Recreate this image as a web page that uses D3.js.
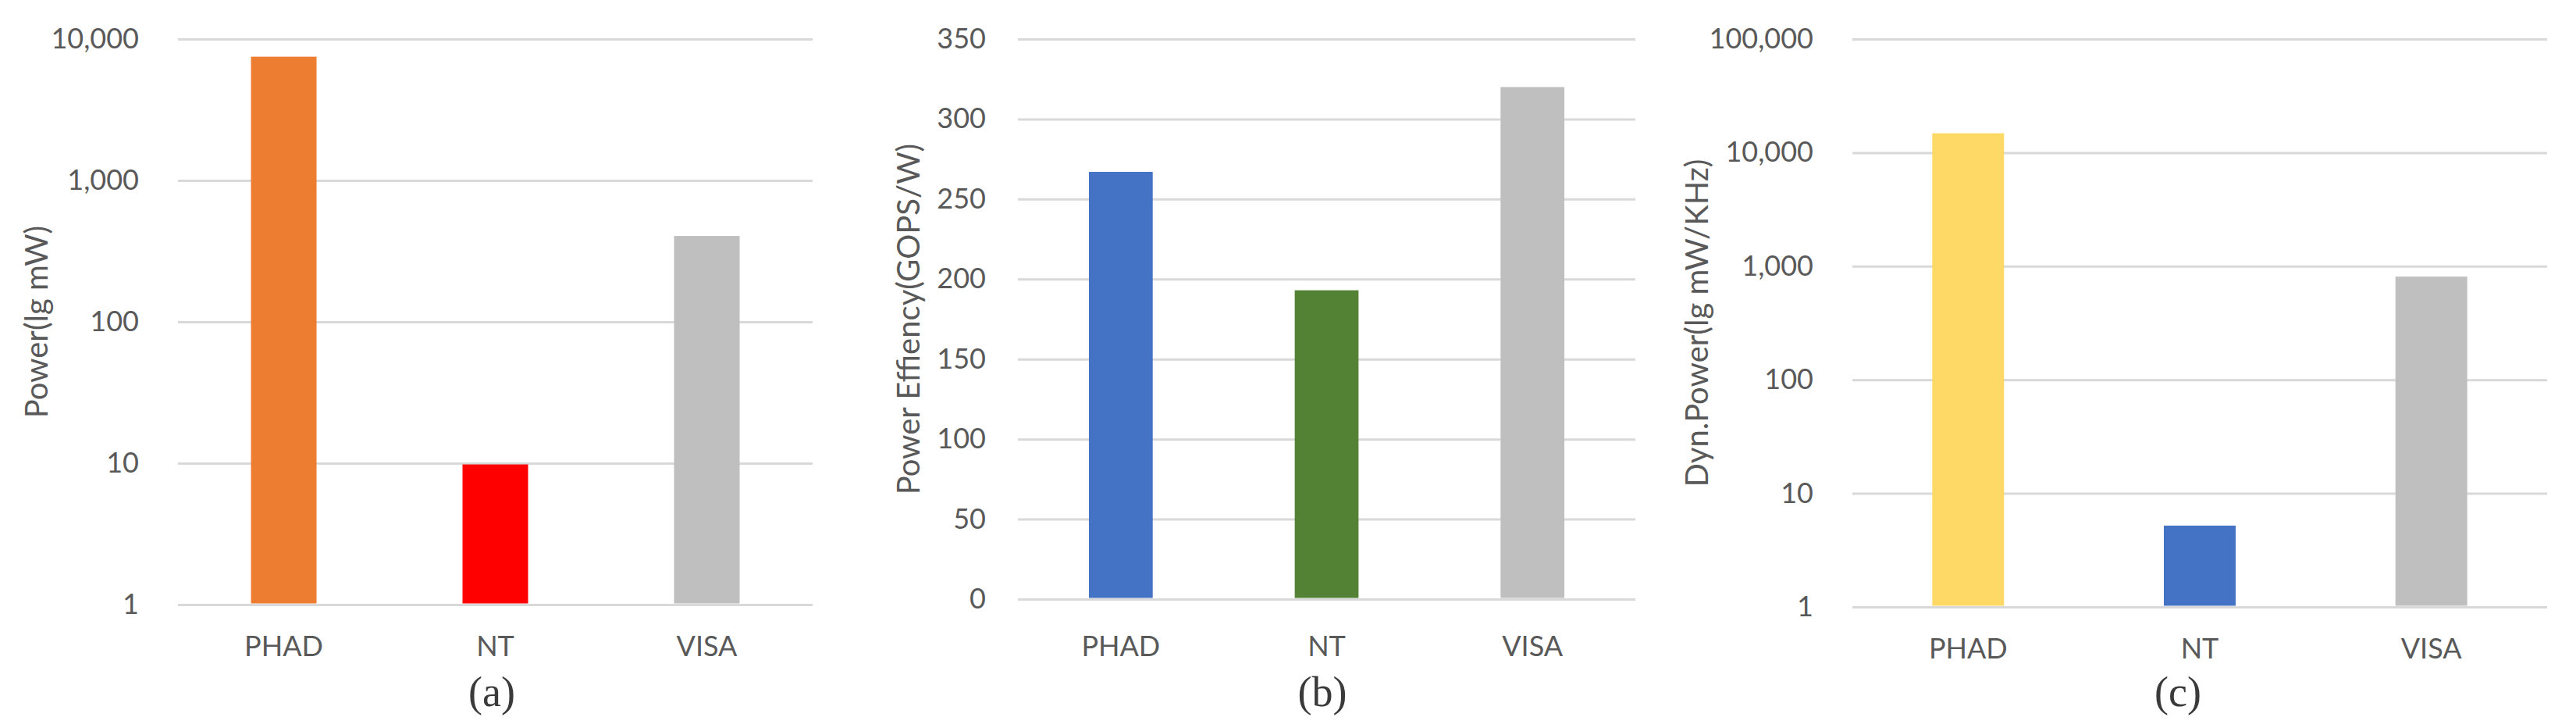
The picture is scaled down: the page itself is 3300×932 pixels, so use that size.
<!DOCTYPE html>
<html>
<head>
<meta charset="utf-8">
<script src="https://cdn.jsdelivr.net/npm/d3@7"></script>
<style>
  html, body { margin: 0; padding: 0; background: #fff; }
  svg { display: block; }
</style>
</head>
<body>
<svg id="chart" width="3300" height="932"></svg>
<script>
// ---- data ----
const categories = ["PHAD", "NT", "VISA"];

const powerValues = [7500, 9.8, 405];          // (a) Power (lg mW)
const powerColors = ["#ED7D31", "#FF0000", "#BFBFBF"];
const powerTicks = [1, 10, 100, 1000, 10000];

const effValues = [267, 193, 320];             // (b) Power Effiency (GOPS/W)
const effColors = ["#4472C4", "#548235", "#BFBFBF"];
const effTicks = [0, 50, 100, 150, 200, 250, 300, 350];

const dynValues = [14800, 5.2, 810];           // (c) Dyn.Power (lg mW/KHz)
const dynColors = ["#FFD966", "#4472C4", "#BFBFBF"];
const dynTicks = [1, 10, 100, 1000, 10000, 100000];

const panelTitles = ["Power(lg mW)", "Power Effiency(GOPS/W)", "Dyn.Power(lg mW/KHz)"];
const captions = ["(a)", "(b)", "(c)"];

// ---- layout ----
const svg = d3.select("#chart");
const fmt = d3.format(",");
const panels = [
  { values: powerValues, colors: powerColors, ticks: powerTicks, log: true,
    x0: 228, x1: 1041, y0: 50, y1: 774, titleX: 46, catY: 840, capX: 630 },
  { values: effValues, colors: effColors, ticks: effTicks, log: false,
    x0: 1304, x1: 2095, y0: 50, y1: 767, titleX: 1163, catY: 840, capX: 1694 },
  { values: dynValues, colors: dynColors, ticks: dynTicks, log: true,
    x0: 2373, x1: 3263, y0: 50, y1: 777, titleX: 2173, catY: 843, capX: 2790 }
];

panels.forEach((p, i) => {
  const g = svg.append("g");
  const x = d3.scaleBand().domain(categories).range([p.x0, p.x1])
    .paddingInner(0.69).paddingOuter(0.345);
  const y = p.log
    ? d3.scaleLog().domain([p.ticks[0], p.ticks[p.ticks.length - 1]]).range([p.y1, p.y0])
    : d3.scaleLinear().domain([p.ticks[0], p.ticks[p.ticks.length - 1]]).range([p.y1, p.y0]);

  // gridlines + tick labels via axis
  const axis = d3.axisLeft(y).tickValues(p.ticks).tickFormat(fmt)
    .tickSize(-(p.x1 - p.x0)).tickPadding(50 - (i === 1 ? 9 : 0));
  const ag = g.append("g").attr("transform", `translate(${p.x0},0)`).call(axis);
  ag.select(".domain").remove();
  ag.selectAll(".tick line").attr("stroke", "#D9D9D9").attr("stroke-width", 3);
  ag.selectAll(".tick text")
    .attr("font-family", "Lato, 'Open Sans', sans-serif")
    .attr("font-size", 36).attr("fill", "#595959")
    .attr("x", i === 1 ? -41 : -50);

  // bars
  g.selectAll("rect.bar").data(p.values).join("rect")
    .attr("class", "bar")
    .attr("x", (d, k) => x(categories[k]))
    .attr("width", x.bandwidth())
    .attr("y", d => y(d))
    .attr("height", d => y(p.log ? p.ticks[0] : 0) - y(d) - 1.5)
    .attr("fill", (d, k) => p.colors[k]);

  // category labels
  g.selectAll("text.cat").data(categories).join("text")
    .attr("class", "cat")
    .attr("x", d => x(d) + x.bandwidth() / 2)
    .attr("y", p.catY)
    .attr("text-anchor", "middle")
    .attr("font-family", "Lato, 'Open Sans', sans-serif")
    .attr("font-size", 36).attr("fill", "#595959")
    .text(d => d);

  // y axis title
  g.append("text")
    .attr("transform", `translate(${p.titleX},${(p.y0 + p.y1) / 2}) rotate(-90)`)
    .attr("text-anchor", "middle")
    .attr("dominant-baseline", "central")
    .attr("font-family", "Lato, 'Open Sans', sans-serif")
    .attr("font-size", 40).attr("fill", "#595959")
    .text(panelTitles[i]);

  // caption
  g.append("text")
    .attr("x", p.capX).attr("y", 904)
    .attr("text-anchor", "middle")
    .attr("font-family", "'Liberation Serif', 'Times New Roman', serif")
    .attr("font-size", 54).attr("fill", "#3a3a3a")
    .text(captions[i]);
});
</script>
</body>
</html>
